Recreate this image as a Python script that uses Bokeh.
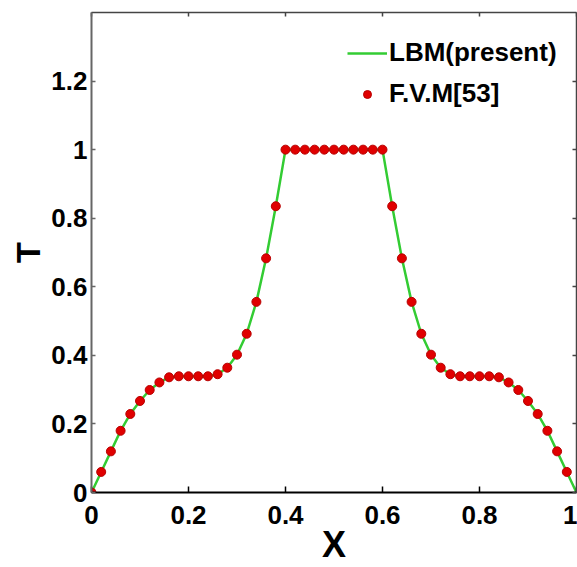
from bokeh.plotting import figure
from bokeh.models import LinearAxis, Range1d, FixedTicker, Legend, LegendItem
from bokeh.embed import file_html
from bokeh.resources import INLINE

# ---- data ----
fvm_x = [0.00, 0.02, 0.04, 0.06, 0.08, 0.10, 0.12, 0.14, 0.16, 0.18,
         0.20, 0.22, 0.24, 0.26, 0.28, 0.30, 0.32, 0.34, 0.36, 0.38,
         0.40, 0.42, 0.44, 0.46, 0.48, 0.50, 0.52, 0.54, 0.56, 0.58,
         0.60, 0.62, 0.64, 0.66, 0.68, 0.70, 0.72, 0.74, 0.76, 0.78,
         0.80, 0.82, 0.84, 0.86, 0.88, 0.90, 0.92, 0.94, 0.96, 0.98]
fvm_t = [0.000, 0.060, 0.120, 0.180, 0.229, 0.267, 0.299, 0.321, 0.336, 0.339,
         0.339, 0.339, 0.339, 0.345, 0.364, 0.402, 0.463, 0.556, 0.683, 0.835,
         1.000, 1.000, 1.000, 1.000, 1.000, 1.000, 1.000, 1.000, 1.000, 1.000,
         1.000, 0.835, 0.683, 0.556, 0.463, 0.402, 0.364, 0.345, 0.339, 0.339,
         0.339, 0.339, 0.336, 0.321, 0.299, 0.267, 0.229, 0.180, 0.120, 0.060]

lbm_x = [0.00, 0.02, 0.04, 0.06, 0.08, 0.10, 0.12, 0.14, 0.16, 0.18,
         0.20, 0.22, 0.24, 0.26, 0.28, 0.30, 0.32, 0.34, 0.36, 0.38,
         0.40, 0.42, 0.44, 0.46, 0.48, 0.50, 0.52, 0.54, 0.56, 0.58,
         0.60, 0.62, 0.64, 0.66, 0.68, 0.70, 0.72, 0.74, 0.76, 0.78,
         0.80, 0.82, 0.84, 0.86, 0.88, 0.90, 0.92, 0.94, 0.96, 0.98, 1.00]
lbm_t = [0.000, 0.060, 0.120, 0.180, 0.229, 0.267, 0.299, 0.321, 0.336, 0.339,
         0.339, 0.339, 0.339, 0.345, 0.364, 0.402, 0.463, 0.556, 0.683, 0.835,
         1.000, 1.000, 1.000, 1.000, 1.000, 1.000, 1.000, 1.000, 1.000, 1.000,
         1.000, 0.835, 0.683, 0.556, 0.463, 0.402, 0.364, 0.345, 0.339, 0.339,
         0.339, 0.339, 0.336, 0.321, 0.299, 0.267, 0.229, 0.180, 0.120, 0.060, 0.000]

x_ticks = [0, 0.2, 0.4, 0.6, 0.8, 1.0]
x_tick_labels = ["0", "0.2", "0.4", "0.6", "0.8", "1"]
y_ticks = [0, 0.2, 0.4, 0.6, 0.8, 1.0, 1.2]
y_tick_labels = ["0", "0.2", "0.4", "0.6", "0.8", "1", "1.2"]

series_names = ["LBM(present)", "F.V.M[53]"]

FONT = "Liberation Sans"

p = figure(width=577, height=567,
           x_range=Range1d(0, 1), y_range=Range1d(0, 1.4),
           output_backend="svg", toolbar_location=None,
           min_border_left=91, min_border_right=1,
           min_border_top=12, min_border_bottom=73)
p.xgrid.visible = False
p.ygrid.visible = False
p.outline_line_color = None
p.background_fill_color = "white"
p.border_fill_color = "white"

line = p.line(lbm_x, lbm_t, line_color="#33cc33", line_width=2.5)
pts = p.scatter(fvm_x, fvm_t, size=9, fill_color="#e00000", line_color="#b80000", line_width=1)

def style_axis(ax, ticks, labels, tick_in, color, lw):
    ax.ticker = FixedTicker(ticks=ticks)
    ax.major_label_overrides = {t: l for t, l in zip(ticks, labels)}
    ax.major_tick_in = tick_in
    ax.major_tick_out = 0
    ax.minor_tick_in = 0
    ax.minor_tick_out = 0
    ax.axis_line_color = color
    ax.axis_line_width = lw
    ax.major_tick_line_color = color
    ax.major_tick_line_width = 1.5

xa = p.xaxis[0]
style_axis(xa, x_ticks, x_tick_labels, 6, "black", 2)
xa.major_label_text_font = FONT
xa.major_label_text_font_style = "bold"
xa.major_label_text_font_size = "26px"
xa.major_label_text_color = "black"
xa.major_label_standoff = 13
xa.axis_label = "X"
xa.axis_label_text_font = FONT
xa.axis_label_text_font_style = "bold"
xa.axis_label_text_font_size = "36px"
xa.axis_label_text_color = "black"
xa.axis_label_standoff = -3

ya = p.yaxis[0]
style_axis(ya, y_ticks, y_tick_labels, 4, "#666666", 2)
ya.major_label_text_font = FONT
ya.major_label_text_font_style = "bold"
ya.major_label_text_font_size = "26px"
ya.major_label_text_color = "black"
ya.major_label_standoff = 4
ya.axis_label = "T"
ya.axis_label_text_font = FONT
ya.axis_label_text_font_style = "bold"
ya.axis_label_text_font_size = "34px"
ya.axis_label_text_color = "black"
ya.axis_label_standoff = 1

top = LinearAxis()
style_axis(top, x_ticks, x_tick_labels, 4, "#444444", 1.5)
top.major_label_text_font_size = "1px"
top.major_label_text_color = None
top.major_label_standoff = 0
p.add_layout(top, "above")

right = LinearAxis()
style_axis(right, y_ticks, y_tick_labels, 4, "#444444", 1.5)
right.major_label_text_font_size = "1px"
right.major_label_text_color = None
right.major_label_standoff = 0
p.add_layout(right, "right")

legend = Legend(items=[LegendItem(label=series_names[0], renderers=[line]),
                       LegendItem(label=series_names[1], renderers=[pts])],
                location=(256, 383),
                border_line_color=None, background_fill_alpha=0,
                padding=0, margin=0, spacing=10,
                glyph_width=40, glyph_height=20, label_height=20,
                label_standoff=2,
                label_text_font=FONT, label_text_font_style="bold",
                label_text_font_size="26px", label_text_color="black")
p.add_layout(legend)

open("out.html", "w").write(file_html(p, INLINE))
